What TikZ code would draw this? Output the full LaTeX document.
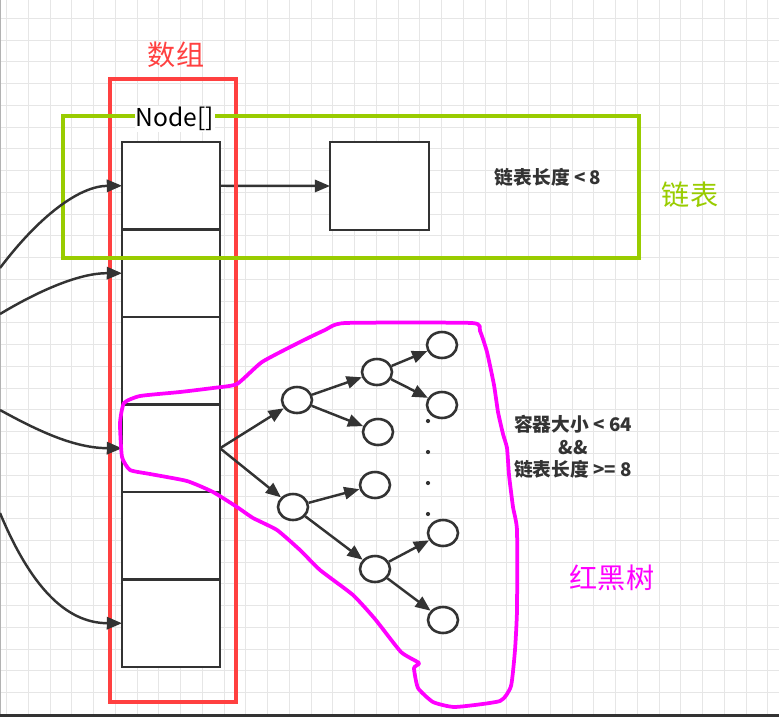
\documentclass[tikz,border=0pt]{standalone}
\usepackage{fontspec}
\setmainfont{Noto Sans CJK SC}
\usetikzlibrary{arrows.meta,shapes.geometric}
\definecolor{arrred}{HTML}{FF4040}
\definecolor{listgreen}{HTML}{99CC00}
\definecolor{treepink}{HTML}{FF00FF}
\definecolor{ink}{HTML}{333333}
\definecolor{gridgray}{HTML}{E6E6E6}

\begin{document}
\begin{tikzpicture}[x=0.03cm, y=-0.03cm, >={Triangle[length=13pt, width=10.5pt]},
  cell/.style={draw=ink, line width=2.2pt, fill=white, minimum width=2.94cm, minimum height=2.625cm, inner sep=0pt, outer sep=0pt},
  leaf/.style={draw=ink, line width=2.2pt, fill=white, ellipse, minimum width=0.9cm, minimum height=0.78cm, inner sep=0pt},
  link/.style={draw=ink, line width=2.1pt, ->},
  note/.style={text=ink, font=\bfseries\fontsize{16}{19}\selectfont, align=center},
  tag/.style={font=\fontsize{24}{28}\selectfont}]

\useasboundingbox (0,0) rectangle (779,717);

% grid paper
\foreach \i in {0,...,35} \draw[gridgray, line width=0.9pt] (6.7+21.75*\i,0) -- (6.7+21.75*\i,717);
\foreach \j in {1,...,33} \draw[gridgray, line width=0.9pt] (0,-3.4+21.75*\j) -- (779,-3.4+21.75*\j);
\draw[gray!60, line width=0.8pt] (0.5,0) -- (0.5,717);
\draw[ink, line width=2.5pt] (0,715.5) -- (779,715.5);

% the array: six buckets
\foreach \i in {1,...,6} \node[cell] (c\i) at (171, 98.25+87.5*\i) {};

% linked list node
\node[cell, minimum width=2.97cm, minimum height=2.64cm] (n1) at (379.5,186) {};
\draw[link] (c1.east) -- (n1.west);

% frames for array and list
\node[draw=arrred, line width=3.2pt, minimum width=3.78cm, minimum height=18.69cm, inner sep=0pt] (arr) at (173,390.5) {};
\node[draw=listgreen, line width=3.2pt, minimum width=17.28cm, minimum height=4.26cm, inner sep=0pt] (list) at (351,187) {};
\node[fill=white, inner sep=1pt, font=\fontsize{21}{24}\selectfont] (arrtype) at (175,119) {Node[]};

% hashes coming in from the left
\coordinate (h1) at (0,268);
\coordinate (h2) at (0,314);
\coordinate (h3) at (0,410);
\coordinate (h4) at (0,513);
\draw[link] (h1) .. controls (40,215) and (80,186) .. (c1.west);
\draw[link] (h2) .. controls (40,290) and (80,273) .. (c2.west);
\draw[link] (h3) .. controls (40,432) and (75,448) .. (c4.west);
\draw[link] (h4) .. controls (30,585) and (65,623) .. (c6.west);

% red-black tree
\node[leaf] (t1) at (297,400) {};
\node[leaf] (t2) at (377,372) {};
\node[leaf] (t3) at (442,345) {};
\node[leaf] (t4) at (442,405) {};
\node[leaf] (t5) at (378,432) {};
\node[leaf] (t6) at (375,485) {};
\node[leaf] (t7) at (293,507) {};
\node[leaf] (t8) at (375,569) {};
\node[leaf] (t9) at (443,533) {};
\node[leaf] (t10) at (443,620) {};
\draw[link] (c4.east) -- (t1);
\draw[link] (c4.east) -- (t7);
\draw[link] (t1) -- (t2);
\draw[link] (t1) -- (t5);
\draw[link] (t2) -- (t3);
\draw[link] (t2) -- (t4);
\draw[link] (t7) -- (t6);
\draw[link] (t7) -- (t8);
\draw[link] (t8) -- (t9);
\draw[link] (t8) -- (t10);
\foreach \y in {421,452,483,514} \fill[ink] (428,\y) circle (1.8pt);

% hand-drawn outline round the tree
\draw[treepink, line width=3.2pt, line join=round] plot[smooth cycle, tension=0.3] coordinates {
  (345,323) (472,323) (480,331) (487,352) (494,385) (498,412) (503,434) (507,448)
  (509,475) (513,507) (517,530) (517,610) (515,650) (511,686) (500,701) (455,707)
  (433,702) (418,688) (414,668) (419,663) (401,652) (375,619) (353,595) (320,570)
  (300,550) (277,530) (253,518) (237,507) (213,492) (187,481) (150,474) (130,470)
  (122,457) (120,423) (124,403) (140,396) (180,392) (213,388) (237,384) (262,362)
  (300,342) (325,330)};

% labels
\node[tag, text=arrred] (arrname) at (176,55) {数组};
\node[tag, text=listgreen] (listname) at (690,195) {链表};
\node[tag, text=treepink] (treename) at (612,578) {红黑树};
\node[note] (listrule) at (548,177) {链表长度 {<} 8};
\node[note] (treerule) at (573,447) {容器大小 {<} 64\\\&\&\\链表长度 {>=} 8};

\end{tikzpicture}
\end{document}
